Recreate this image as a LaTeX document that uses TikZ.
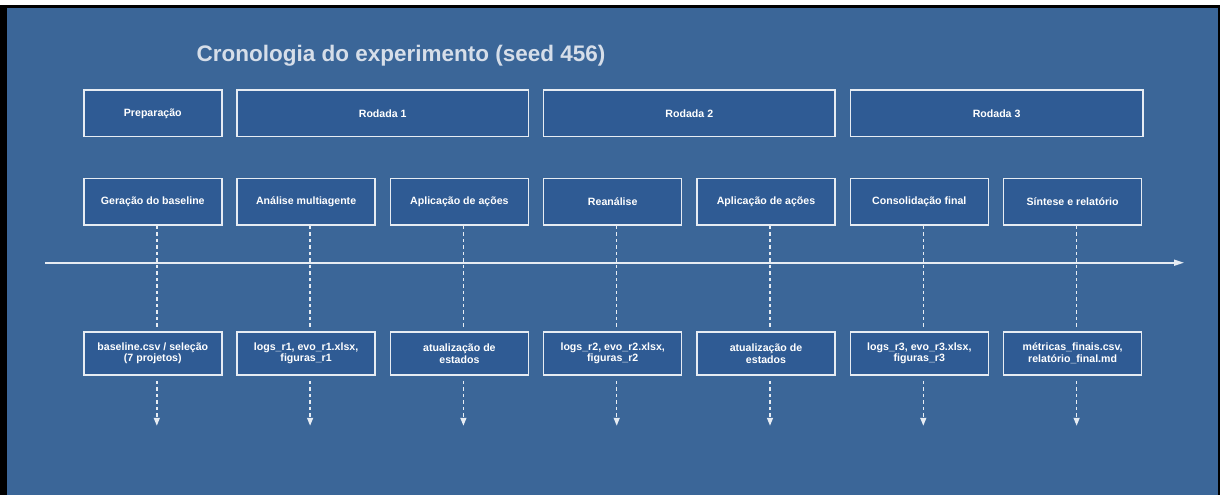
\documentclass[tikz,border=0pt]{standalone}
\usepackage{fontspec}
\setmainfont{Liberation Sans}
\usetikzlibrary{arrows,arrows.meta,positioning}
\definecolor{fundo}{HTML}{3B6698}
\definecolor{caixa}{HTML}{2F5B94}
\definecolor{linha}{HTML}{E6ECF3}
\definecolor{titulo}{HTML}{D6DEE9}

\begin{document}
\begin{tikzpicture}[x=1pt,y=-1pt,node distance=153.3pt,on grid]
  \useasboundingbox (0,0) rectangle (1220,495);
  \fill[white] (0,0) rectangle (1220,495);
  \fill[black] (0,5) rectangle (1220,495);
  \fill[fundo] (7,8) rectangle (1218,495);

  \tikzset{etapa/.style={draw=linha,line width=1.5pt,fill=caixa,text=white,font=\bfseries\fontsize{10.6}{11.5}\selectfont,minimum width=138pt,minimum height=46.7pt,inner sep=0pt,align=center}}
  \tikzset{saida/.style={etapa,minimum height=43pt}}
  \tikzset{tracejado/.style={draw=linha,line width=1.5pt,dash pattern=on 3.5pt off 3pt}}

  \node[text=titulo,font=\bfseries\fontsize{22.5}{26}\selectfont] (titulo) at (401,56) {Cronologia do experimento (seed 456)};

  % fases
  \node[etapa]                          (prep) at (152.8,113.3) {Preparação};
  \node[etapa,minimum width=291.3pt]    (r1)   at (382.7,113.3) {Rodada 1};
  \node[etapa,minimum width=291.3pt]    (r2)   at (689.3,113.3) {Rodada 2};
  \node[etapa,minimum width=292.6pt]    (r3)   at (996.6,113.3) {Rodada 3};

  % etapas
  \node[etapa]          (g) at (152.8,201.7)  {Geração do baseline};
  \node[etapa]          (a) [right =of g]     {Análise multiagente};
  \node[etapa]          (p1) [right =of a]    {Aplicação de ações};
  \node[etapa]          (re) [right =of p1]   {Reanálise};
  \node[etapa]          (p2) [right =of re]   {Aplicação de ações};
  \node[etapa]          (c) [right =of p2]    {Consolidação final};
  \node[etapa]          (s) [right =of c]     {Síntese e relatório};

  % saidas
  \node[saida]          (og) at (152.8,353.5) {baseline.csv / seleção\\(7 projetos)};
  \node[saida]          (oa) [right =of og]   {logs\_r1, evo\_r1.xlsx,\\figuras\_r1};
  \node[saida]          (op1) [right =of oa]  {atualização de\\estados};
  \node[saida]          (ore) [right =of op1] {logs\_r2, evo\_r2.xlsx,\\figuras\_r2};
  \node[saida]          (op2) [right =of ore] {atualização de\\estados};
  \node[saida]          (oc) [right =of op2]  {logs\_r3, evo\_r3.xlsx,\\figuras\_r3};
  \node[saida]          (os) [right =of oc]   {métricas\_finais.csv,\\relatório\_final.md};

  % eixo do tempo
  \coordinate (inicio) at (45,262.7);
  \coordinate (fim) at (1184,262.7);
  \draw[draw=linha,line width=1.6pt,-{Triangle[width=6pt,length=10pt]}] (inicio) -- (fim);

  \coordinate (fg) at ([xshift=4pt,yshift=-50pt]og.south);
  \coordinate (fa) at ([xshift=4pt,yshift=-50pt]oa.south);
  \coordinate (fp1) at ([xshift=4pt,yshift=-50pt]op1.south);
  \coordinate (fre) at ([xshift=4pt,yshift=-50pt]ore.south);
  \coordinate (fp2) at ([xshift=4pt,yshift=-50pt]op2.south);
  \coordinate (fc) at ([xshift=4pt,yshift=-50pt]oc.south);
  \coordinate (fs) at ([xshift=4pt,yshift=-50pt]os.south);

  \tikzset{seta/.style={tracejado,shorten <=5pt,-{Triangle[width=6pt,length=8pt,fill=linha]}}}
  \path ([xshift=4pt]g.south)   edge [tracejado,shorten >=4pt] ([xshift=4pt]og.north)
        ([xshift=4pt]a.south)   edge [tracejado,shorten >=4pt] ([xshift=4pt]oa.north)
        ([xshift=4pt]p1.south)  edge [tracejado,shorten >=4pt] ([xshift=4pt]op1.north)
        ([xshift=4pt]re.south)  edge [tracejado,shorten >=4pt] ([xshift=4pt]ore.north)
        ([xshift=4pt]p2.south)  edge [tracejado,shorten >=4pt] ([xshift=4pt]op2.north)
        ([xshift=4pt]c.south)   edge [tracejado,shorten >=4pt] ([xshift=4pt]oc.north)
        ([xshift=4pt]s.south)   edge [tracejado,shorten >=4pt] ([xshift=4pt]os.north);
  \path ([xshift=4pt]og.south)  edge [seta] (fg)
        ([xshift=4pt]oa.south)  edge [seta] (fa)
        ([xshift=4pt]op1.south) edge [seta] (fp1)
        ([xshift=4pt]ore.south) edge [seta] (fre)
        ([xshift=4pt]op2.south) edge [seta] (fp2)
        ([xshift=4pt]oc.south)  edge [seta] (fc)
        ([xshift=4pt]os.south)  edge [seta] (fs);
\end{tikzpicture}
\end{document}
